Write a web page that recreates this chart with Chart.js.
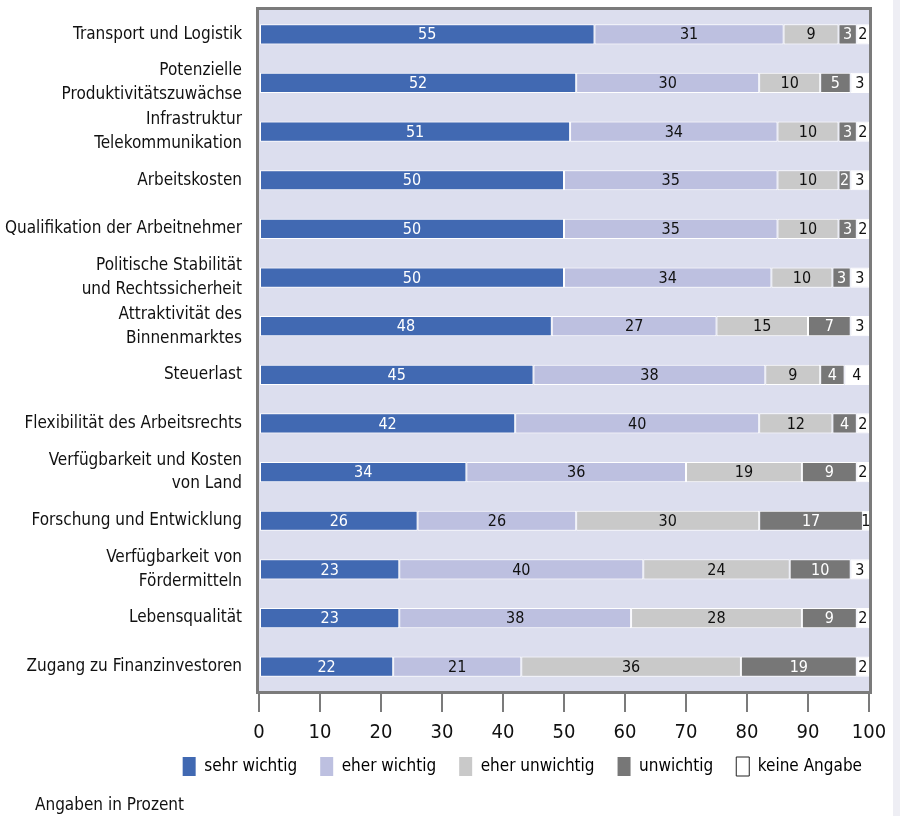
<!DOCTYPE html>
<html lang="de">
<head>
<meta charset="utf-8">
<title>Standortfaktoren</title>
<script src="https://cdn.jsdelivr.net/npm/chart.js@4"></script>
<style>
  html, body { margin: 0; padding: 0; background: #fff; }
  #wrap { position: relative; width: 900px; height: 816px; }
  #edge { position: absolute; left: 893px; top: 0; width: 7px; height: 816px; background: #eeeef4; }
  #note {
    position: absolute; left: 35px; top: 794px;
    font: 17px "DejaVu Sans Condensed", sans-serif; color: #111;
  }
</style>
</head>
<body>
<div id="wrap">
  <canvas id="chart" width="900" height="816"></canvas>
  <div id="edge"></div>
  <div id="note">Angaben in Prozent</div>
</div>
<script>
const FONT = '"DejaVu Sans Condensed", sans-serif';

const categories = [
  "Transport und Logistik",
  ["Potenzielle", "Produktivitätszuwächse"],
  ["Infrastruktur", "Telekommunikation"],
  "Arbeitskosten",
  "Qualifikation der Arbeitnehmer",
  ["Politische Stabilität", "und Rechtssicherheit"],
  ["Attraktivität des", "Binnenmarktes"],
  "Steuerlast",
  "Flexibilität des Arbeitsrechts",
  ["Verfügbarkeit und Kosten", "von Land"],
  "Forschung und Entwicklung",
  ["Verfügbarkeit von", "Fördermitteln"],
  "Lebensqualität",
  "Zugang zu Finanzinvestoren"
];

const sehrWichtig   = [55, 52, 51, 50, 50, 50, 48, 45, 42, 34, 26, 23, 23, 22];
const eherWichtig   = [31, 30, 34, 35, 35, 34, 27, 38, 40, 36, 26, 40, 38, 21];
const eherUnwichtig = [ 9, 10, 10, 10, 10, 10, 15,  9, 12, 19, 30, 24, 28, 36];
const unwichtig     = [ 3,  5,  3,  2,  3,  3,  7,  4,  4,  9, 17, 10,  9, 19];
const keineAngabe   = [ 2,  3,  2,  3,  2,  3,  3,  4,  2,  2,  1,  3,  2,  2];

const xTicks = [0, 10, 20, 30, 40, 50, 60, 70, 80, 90, 100];

const series = [
  { label: "sehr wichtig",   data: sehrWichtig,   color: "#4169b2", text: "#ffffff" },
  { label: "eher wichtig",   data: eherWichtig,   color: "#bdc0e0", text: "#111111" },
  { label: "eher unwichtig", data: eherUnwichtig, color: "#c9c9c9", text: "#111111" },
  { label: "unwichtig",      data: unwichtig,     color: "#777777", text: "#ffffff" },
  { label: "keine Angabe",   data: keineAngabe,   color: "#ffffff", text: "#111111" }
];

// plot background and frame
const framePlugin = {
  id: "frame",
  afterLayout(chart) {
    // pull the legend up and a bit to the right
    const lg = chart.legend;
    lg.left += 16;
    lg.right += 16;
    lg.top -= 20;
    lg.bottom -= 20;
  },
  beforeDatasetsDraw(chart) {
    const { ctx, chartArea: a } = chart;
    ctx.save();
    ctx.fillStyle = "#dcdeee";
    ctx.fillRect(a.left, a.top, a.right - a.left, a.bottom - a.top);
    ctx.strokeStyle = "#7b7b7b";
    ctx.lineWidth = 3;
    ctx.strokeRect(a.left - 1.5, a.top - 1.5, a.right - a.left + 3, a.bottom - a.top + 3);
    ctx.restore();
  }
};

// value labels centered in every segment
const valuePlugin = {
  id: "values",
  afterDatasetsDraw(chart) {
    const { ctx } = chart;
    ctx.save();
    ctx.font = "16px " + FONT;
    ctx.textAlign = "center";
    ctx.textBaseline = "middle";
    chart.data.datasets.forEach((ds, i) => {
      const meta = chart.getDatasetMeta(i);
      meta.data.forEach((bar, j) => {
        const p = bar.getProps(["x", "y", "base"], true);
        ctx.fillStyle = series[i].text;
        ctx.fillText(String(ds.data[j]), (p.x + p.base) / 2, p.y + 1);
      });
    });
    ctx.restore();
  }
};

new Chart(document.getElementById("chart"), {
  type: "bar",
  data: {
    labels: categories,
    datasets: series.map((s) => ({
      label: s.label,
      data: s.data,
      backgroundColor: s.color,
      borderColor: "#ffffff",
      borderWidth: 1,
      borderSkipped: false,
      barPercentage: 0.8,
      categoryPercentage: 0.52
    }))
  },
  options: {
    indexAxis: "y",
    responsive: false,
    animation: false,
    layout: { padding: { top: 10, right: 31, bottom: 10, left: 0 } },
    plugins: {
      tooltip: { enabled: false },
      legend: {
        position: "bottom",
        align: "end",
        labels: {
          color: "#111",
          font: { family: FONT, size: 17 },
          boxWidth: 13,
          boxHeight: 19,
          padding: 23,
          generateLabels(chart) {
            return chart.data.datasets.map((ds, i) => ({
              text: ds.label,
              fillStyle: series[i].color,
              strokeStyle: i === 4 ? "#222222" : series[i].color,
              lineWidth: i === 4 ? 1 : 0,
              datasetIndex: i
            }));
          }
        }
      }
    },
    scales: {
      x: {
        stacked: true,
        min: 0,
        max: 100,
        afterBuildTicks(scale) {
          scale.ticks = xTicks.map((v) => ({ value: v }));
        },
        grid: {
          drawOnChartArea: false,
          drawTicks: true,
          tickLength: 21,
          color: "#7b7b7b",
          lineWidth: 2
        },
        border: { display: false },
        ticks: {
          color: "#111",
          padding: 9,
          font: { family: FONT, size: 20 },
          maxRotation: 0
        }
      },
      y: {
        stacked: true,
        afterFit(scale) {
          scale.width = 259;
          scale.paddingTop = 0;
          scale.paddingBottom = 0;
        },
        grid: { display: false },
        border: { display: false },
        ticks: {
          autoSkip: false,
          color: "#111",
          padding: 9,
          font: { family: FONT, size: 17, lineHeight: 1.4 }
        }
      }
    }
  },
  plugins: [framePlugin, valuePlugin]
});
</script>
</body>
</html>
